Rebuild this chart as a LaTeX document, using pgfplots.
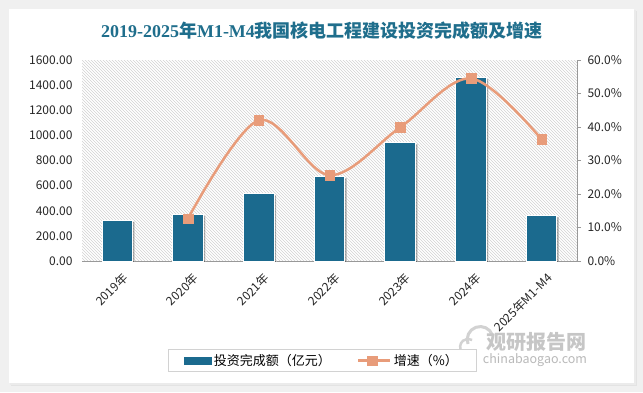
\documentclass[border=0pt]{standalone}
\usepackage{pgfplots}
\pgfplotsset{compat=1.18}
\usepackage{fontspec}
\setmainfont{Noto Sans CJK SC}
\newfontfamily\serifb{Liberation Serif}
\usetikzlibrary{patterns,shadows}
\definecolor{barblue}{RGB}{27,106,142}
\definecolor{lineor}{RGB}{232,156,122}
\definecolor{titleblue}{RGB}{31,110,140}
\begin{document}
\begin{tikzpicture}
\useasboundingbox (0pt,0pt) rectangle (643pt,392pt);
\fill[gray!12] (0pt,0pt) rectangle (643pt,392pt);
\fill[gray!22] (11pt,6pt) rectangle (637pt,381pt);
\fill[gray!16] (10pt,7pt) rectangle (636pt,382pt);
\fill[white] (9pt,9pt) rectangle (634pt,383pt);
\node[font=\fontsize{18}{20}\selectfont\bfseries, text=titleblue] at (322pt,361pt)
  {{\serifb 2019-2025}年{\serifb M1-M4}我国核电工程建设投资完成额及增速};
% watermark
\draw[gray!35, line width=3pt] (468pt,48pt) arc (200:20:13pt);
\draw[gray!35, line width=2.5pt] (462pt,40pt) arc (220:60:8pt);
\node[font=\fontsize{20}{22}\selectfont\bfseries, text=gray!45] at (536pt,50pt) {观研报告网};
\node[font=\fontsize{12.5}{14}\selectfont, text=gray!55] at (535pt,32pt) {chinabaogao.com};
\begin{axis}[
  at={(82pt,131pt)}, anchor=south west, scale only axis,
  width=495pt, height=201pt,
  xmin=-0.5, xmax=6.5, ymin=0, ymax=1600,
  axis x line*=bottom, axis y line*=left,
  x axis line style={draw=gray!80, line width=0.8pt},
  y axis line style={draw=none},
  axis background/.style={pattern=north west lines, pattern color=gray!35},
  xtick={0,...,6},
  xticklabels={2019年,2020年,2021年,2022年,2023年,2024年,2025年M1-M4},
  xticklabel style={yshift=-6pt, xshift=4pt, rotate=45, anchor=north east, font=\fontsize{12}{14}\selectfont, text=black!85},
  ytick={0,200,...,1600},
  scaled y ticks=false,
  yticklabel style={/pgf/number format/fixed, /pgf/number format/fixed zerofill, /pgf/number format/precision=2, /pgf/number format/1000 sep={}, /pgf/number format/assume math mode=true, font=\fontsize{12}{14}\selectfont, text=black!85, xshift=-6pt},
  major tick length=0pt,
  tick style={draw=none},
]
\addplot[ybar, bar width=30.7pt, fill=barblue, draw=white, line width=1pt,
  drop shadow={shadow xshift=2pt, shadow yshift=-1.5pt, fill=black, opacity=0.3}]
  coordinates {(0,326)(1,374)(2,536)(3,671)(4,942)(5,1462)(6,361)};
\end{axis}
\begin{axis}[
  at={(82pt,131pt)}, anchor=south west, scale only axis,
  width=495pt, height=201pt,
  xmin=-0.5, xmax=6.5, ymin=0, ymax=60,
  axis x line=none, axis y line*=right,
  y axis line style={draw=gray!80, line width=0.8pt},
  ytick={0,10,...,60},
  yticklabel={\pgfmathprintnumber[fixed,fixed zerofill,precision=1,assume math mode=true]{\tick}\%},
  yticklabel style={font=\fontsize{12}{14}\selectfont, text=black!85, xshift=3pt},
  tick align=outside, major tick length=4pt,
  ytick style={draw=gray!80, line width=0.8pt},
  legend columns=2,
  legend style={at={(0.485,-0.495)}, anchor=center, draw=gray!35, line width=0.8pt,
    font=\fontsize{13}{15}\selectfont, inner xsep=16pt, inner ysep=3pt,
    /tikz/every even column/.append style={column sep=24pt}},
]
\addlegendimage{legend image code/.code={\fill[barblue] (0pt,-3.5pt) rectangle (27pt,3.5pt);}}
\addlegendentry{投资完成额（亿元）}
\addlegendimage{legend image code/.code={\draw[lineor,line width=3pt] (0pt,0pt)--(32pt,0pt); \fill[lineor] (9pt,-4.5pt) rectangle (19pt,4.5pt);}}
\addlegendentry{增速（\%）}
\addplot[lineor, line width=2.5pt, smooth, tension=0.55, mark=square*, mark size=4.8pt,
  mark options={solid, fill=lineor, draw=lineor, line width=0.3pt}, forget plot]
  coordinates {(1,12.7)(2,42.0)(3,25.6)(4,39.9)(5,54.5)(6,36.3)};
\end{axis}
\end{tikzpicture}
\end{document}
